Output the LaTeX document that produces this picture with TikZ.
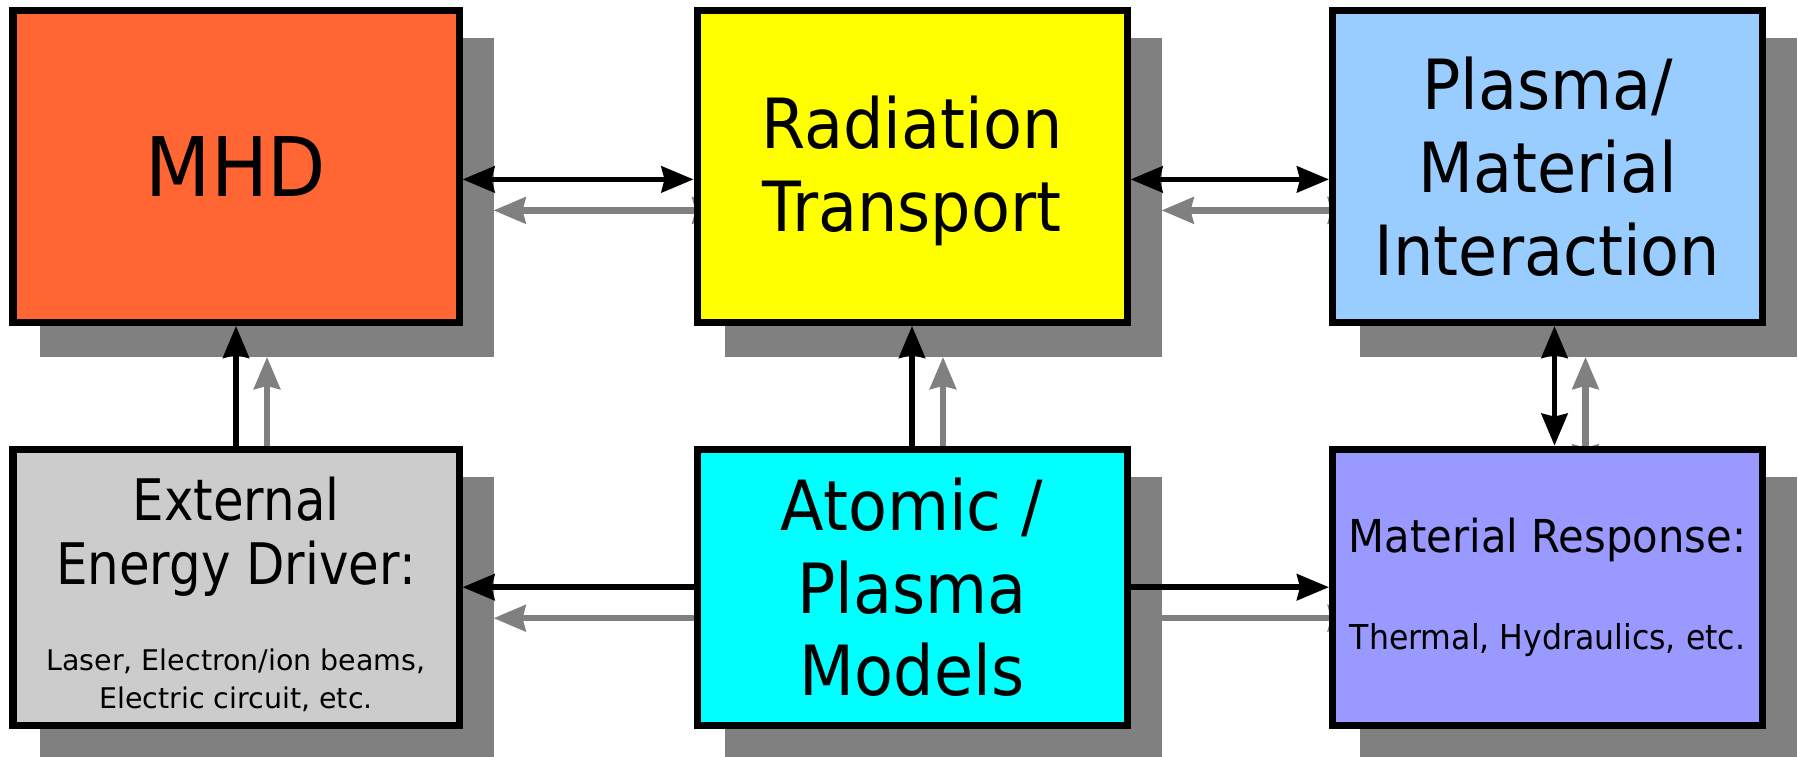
\documentclass[tikz,border=0pt]{standalone}
\usepackage{fontspec}
\setmainfont{DejaVu Sans}[FakeStretch=0.92]
\newfontfamily\narrowfont{DejaVu Sans}[FakeStretch=0.87]
\newfontfamily\plainfont{DejaVu Sans}
\usepackage{xcolor}
\definecolor{boxOrange}{HTML}{FF6633}
\definecolor{boxYellow}{HTML}{FFFF00}
\definecolor{boxSky}{HTML}{99CCFF}
\definecolor{boxGrey}{HTML}{CCCCCC}
\definecolor{boxCyan}{HTML}{00FFFF}
\definecolor{boxViolet}{HTML}{9999FF}
\definecolor{shadowGrey}{HTML}{808080}
\usetikzlibrary{arrows.meta}

\begin{document}
\begin{tikzpicture}[
  box/.style={rectangle, draw=black, line width=0.07cm, inner sep=0pt, align=center, minimum width=4.3cm},
  colwide/.style={minimum width=4.46cm},
  rowtall/.style={minimum height=3.12cm},
  rowlow/.style={minimum height=2.76cm},
  shadowbox/.style={box, draw=shadowGrey, fill=shadowGrey},
  bigtext/.style={font=\fontsize{19.7}{23.6}\selectfont},
  link/.style={draw=black, line width=0.055cm, >={Stealth[length=0.32cm, width=0.26cm, inset=0.03cm]}},
  shadowlink/.style={link, draw=shadowGrey, line width=0.065cm}
]
  \useasboundingbox (0,0) rectangle (17.98,-7.57);
  \node[shadowbox, colwide, rowtall] (sMHD) at (2.67,-1.974) {};
  \node[shadowbox, rowtall] (sRT) at (9.43,-1.974) {};
  \node[shadowbox, rowtall] (sPMI) at (15.785,-1.974) {};
  \node[shadowbox, colwide, rowlow] (sEED) at (2.67,-6.182) {};
  \node[shadowbox, rowlow] (sAPM) at (9.43,-6.182) {};
  \node[shadowbox, rowlow] (sMR) at (15.785,-6.182) {};
  \draw[shadowlink, <->] ([yshift=-0.13cm]sMHD.east) -- ([yshift=-0.13cm]sRT.west);
  \draw[shadowlink, <->] ([yshift=-0.13cm]sRT.east) -- ([yshift=-0.13cm]sPMI.west);
  \draw[shadowlink, ->] (sEED) -- (sMHD);
  \draw[shadowlink, ->] (sAPM) -- (sRT);
  \draw[shadowlink, <->] ([xshift=0.07cm]sPMI.south) -- ([xshift=0.07cm]sMR.north);
  \draw[shadowlink, ->] (sAPM) -- (sEED);
  \draw[shadowlink, ->] (sAPM) -- (sMR);
  \node[box, colwide, rowtall, fill=boxOrange, font=\fontsize{23.4}{28}\selectfont] (MHD) at (2.36,-1.664) {MHD};
  \node[box, rowtall, bigtext, fill=boxYellow, text depth=1.6pt] (RT) at (9.12,-1.664) {Radiation\\Transport};
  \node[box, rowtall, bigtext, fill=boxSky] (PMI) at (15.475,-1.664) {Plasma/\\Material\\Interaction};
  \node[box, colwide, rowlow, fill=boxGrey, text height=69.9pt, font=\fontsize{8.1}{24.5}\selectfont] (EED) at (2.36,-5.872) {{\narrowfont\fontsize{16.3}{18}\selectfont External}\\[-6.3pt]{\narrowfont\fontsize{16.3}{18}\selectfont Energy Driver:}\\{\plainfont Laser, Electron/ion beams,}\\[-13.7pt]{\plainfont Electric circuit, etc.}};
  \node[box, rowlow, bigtext, fill=boxCyan] (APM) at (9.12,-5.872) {Atomic /\\Plasma\\Models};
  \node[box, rowlow, fill=boxViolet, font=\fontsize{9.76}{27.6}\selectfont] (MR) at (15.475,-5.872) {{\fontsize{12.9}{15}\selectfont Material Response:}\\Thermal, Hydraulics, etc.};
  \draw[link, <->] ([yshift=-0.13cm]MHD.east) -- ([yshift=-0.13cm]RT.west);
  \draw[link, <->] ([yshift=-0.13cm]RT.east) -- ([yshift=-0.13cm]PMI.west);
  \draw[link, ->] (EED) -- (MHD);
  \draw[link, ->] (APM) -- (RT);
  \draw[link, <->] ([xshift=0.07cm]PMI.south) -- ([xshift=0.07cm]MR.north);
  \draw[link, ->] (APM) -- (EED);
  \draw[link, ->] (APM) -- (MR);
\end{tikzpicture}
\end{document}
